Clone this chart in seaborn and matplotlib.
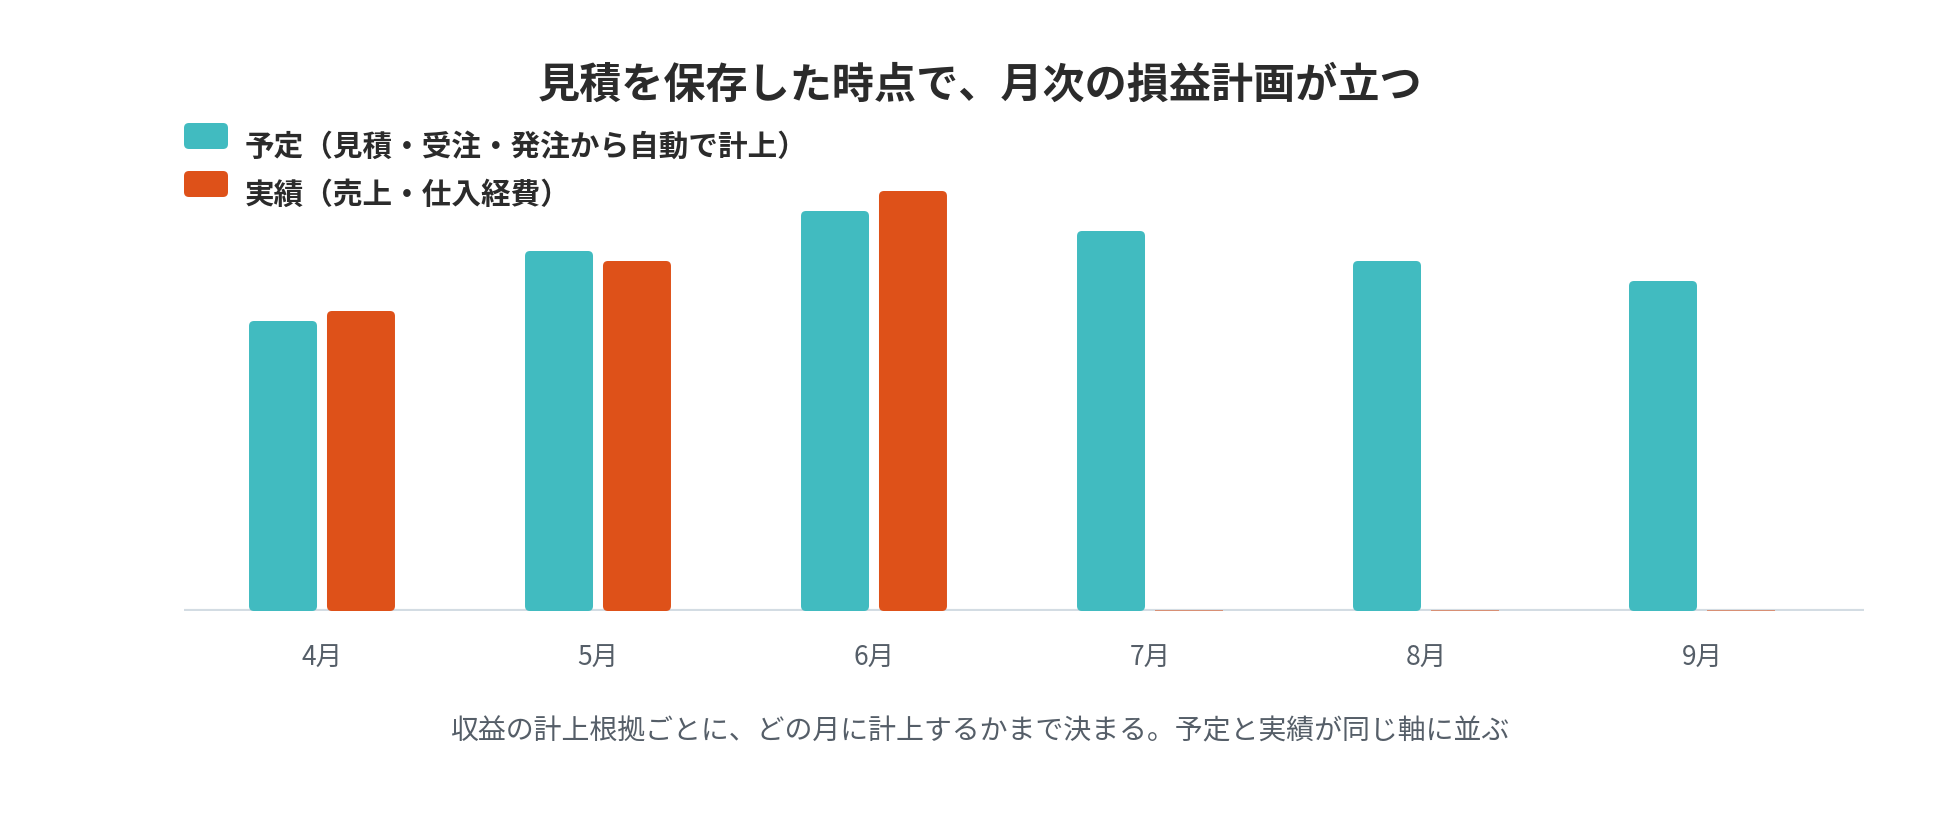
import numpy as np
import pandas as pd
import matplotlib
matplotlib.use("Agg")
import matplotlib.pyplot as plt
import seaborn as sns
from matplotlib.patches import FancyBboxPatch

# data (bar heights)
months = ["4月", "5月", "6月", "7月", "8月", "9月"]
plan = [290, 360, 400, 380, 350, 330]
actual = [300, 350, 420, 0, 0, 0]
series = ["予定（見積・受注・発注から自動で計上）", "実績（売上・仕入経費）"]

title = "見積を保存した時点で、月次の損益計画が立つ"
note = "収益の計上根拠ごとに、どの月に計上するかまで決まる。予定と実績が同じ軸に並ぶ"

teal = "#41BBC0"
orange = "#DE5119"
base_col = "#D3DCE3"
ink = "#2B2B2B"
gray = "#555E68"

df = pd.DataFrame({
    "month": months * 2,
    "value": plan + actual,
    "kind": [series[0]] * len(months) + [series[1]] * len(months),
})

sns.set_theme(style="white")
plt.rcParams["font.family"] = ["Noto Sans CJK JP", "DejaVu Sans"]

W, H = 1960, 828
fig = plt.figure(figsize=(W / 100, H / 100), dpi=100)
fig.patch.set_facecolor("white")

# plot area in pixels
left, right, base_y = 184, 1864, 612
ymax = 450
ax = fig.add_axes([left / W, (H - base_y) / H, (right - left) / W, ymax / H])

sns.barplot(data=df, x="month", y="value", hue="kind", palette=[teal, orange],
            saturation=1, width=0.565, gap=0.128, legend=False, ax=ax)

ax.set_xlim(-0.5, 5.587)
ax.set_ylim(0, ymax)
for s in ax.spines.values():
    s.set_visible(False)
ax.set_yticks([])
ax.set_xlabel("")
ax.set_ylabel("")
ax.tick_params(axis="x", length=0, pad=24, labelsize=19, labelcolor=gray)

# baseline
ax.axhline(0, color=base_col, lw=3, zorder=1, solid_capstyle="butt")

# swap bars for rounded ones
fig.canvas.draw()
px_x = ax.transData.transform((1, 0))[0] - ax.transData.transform((0, 0))[0]
px_y = ax.transData.transform((0, 1))[1] - ax.transData.transform((0, 0))[1]
aspect = px_x / px_y
r = 5 / px_x
bars = list(ax.patches)
for p in bars:
    x0, y0 = p.get_x(), p.get_y()
    w, h = p.get_width(), p.get_height()
    c = p.get_facecolor()
    p.remove()
    if h <= 0:
        ax.plot([x0, x0 + w], [0, 0], color=orange, lw=1.3, alpha=0.6,
                zorder=3, solid_capstyle="butt")
        continue
    ax.add_patch(FancyBboxPatch((x0, y0), w, h,
                                boxstyle=f"round,pad=0,rounding_size={r}",
                                mutation_aspect=aspect, fc=c, ec="none",
                                zorder=2, clip_on=False))

# overlay for title, legend and note, in pixel units
ov = fig.add_axes([0, 0, 1, 1])
ov.set_xlim(0, W)
ov.set_ylim(H, 0)
ov.axis("off")
ov.patch.set_alpha(0)

ov.text(W / 2, 86, title, ha="center", va="center", fontsize=30.3,
        fontweight="bold", color=ink)

for i, (lab, col) in enumerate(zip(series, [teal, orange])):
    yc = 137 + i * 48
    ov.add_patch(FancyBboxPatch((184, yc - 13), 44, 26,
                                boxstyle="round,pad=0,rounding_size=5",
                                fc=col, ec="none"))
    ov.text(245, yc + 10, lab, ha="left", va="center", fontsize=21.3,
            fontweight="bold", color=ink)

ov.text(W / 2, 731, note, ha="center", va="center", fontsize=20.1, color=gray)

fig.savefig("out.png", dpi=100, facecolor="white")
